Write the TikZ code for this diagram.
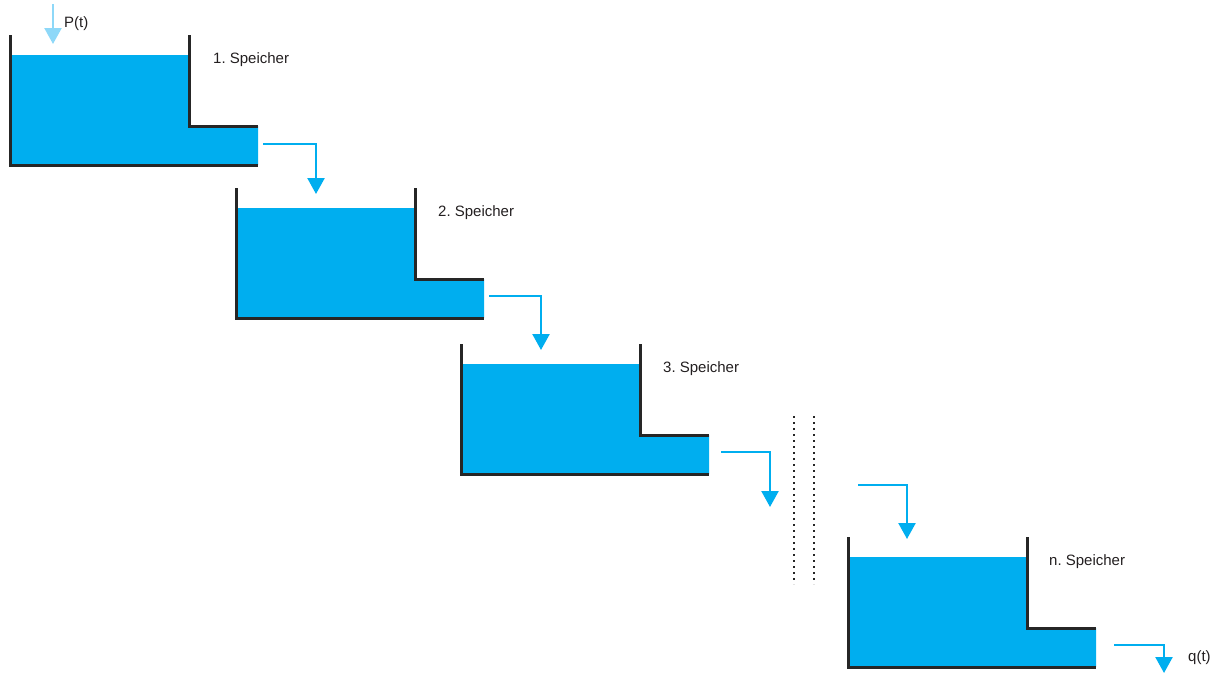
\documentclass[tikz,border=0pt]{standalone}
\usepackage{fontspec}
\setmainfont{Liberation Sans}
\usetikzlibrary{arrows.meta}
\definecolor{water}{HTML}{00AEEF}
\definecolor{lightwater}{HTML}{8ED8F8}
\definecolor{txt}{HTML}{231F20}
\begin{document}
\frenchspacing
\begin{tikzpicture}[x=1pt,y=-1pt,
  wall/.style={line width=3pt,black!85},
  flow/.style={line width=2.4pt,water,-{Triangle[width=17pt,length=16pt]}},
  lbl/.style={font=\fontsize{15}{18}\selectfont,text=txt,anchor=west,inner sep=0pt},
  sep/.style={line width=2.6pt,black!85,dash pattern=on 2.4pt off 3.6pt},
  tank/.pic={
    \fill[water] (0,20) -- (179,20) -- (179,91) -- (248,91) -- (248,130) -- (0,130) -- cycle;
    \draw[wall] (0,0) -- (0,130) -- (248,130);
    \draw[wall] (179,0) -- (179,91) -- (248,91);
  }]
\useasboundingbox (0,0) rectangle (1220,673);
% tanks
\pic at (10,35) {tank};
\pic at (236,188) {tank};
\pic at (461,344) {tank};
\pic at (848,537) {tank};
% labels
\node[lbl] (l1) at (213,60) {1. Speicher};
\node[lbl] (l2) at (438,213) {2. Speicher};
\node[lbl] (l3) at (663,369) {3. Speicher};
\node[lbl] (ln) at (1049,562) {n. Speicher};
\node[lbl] (p) at (64,24) {P(t)};
\node[lbl] (q) at (1188,658) {q(t)};
% inflow
\coordinate (pin) at (53,4);
\coordinate (pout) at (53,44);
\draw[line width=2.4pt,lightwater,-{Triangle[width=17pt,length=16pt]}] (pin) -- (pout);
% outflows
\coordinate (a1) at (263,144); \coordinate (b1) at (316,194);
\coordinate (a2) at (489,296); \coordinate (b2) at (541,350);
\coordinate (a3) at (721,452); \coordinate (b3) at (770,507);
\coordinate (a4) at (858,485); \coordinate (b4) at (907,539);
\coordinate (a5) at (1114,645); \coordinate (b5) at (1164,673);
\draw[flow] (a1) -| (b1);
\draw[flow] (a2) -| (b2);
\draw[flow] (a3) -| (b3);
\draw[flow] (a4) -| (b4);
\draw[flow] (a5) -| (b5);
% separator
\coordinate (s1) at (794,416); \coordinate (s2) at (794,584);
\coordinate (s3) at (814,416); \coordinate (s4) at (814,584);
\draw[sep] (s1) -- (s2);
\draw[sep] (s3) -- (s4);
\end{tikzpicture}
\end{document}
